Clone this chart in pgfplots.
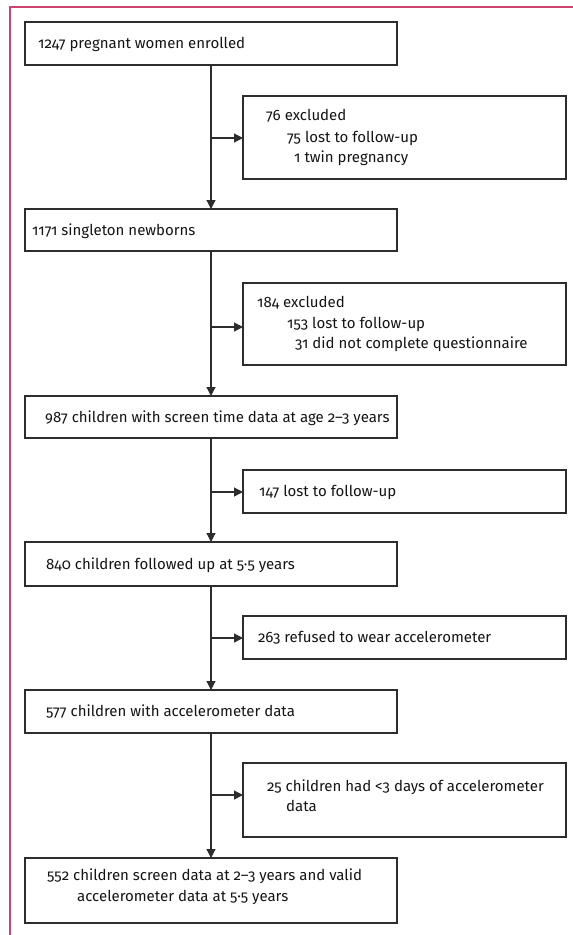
\documentclass[border=0pt]{standalone}
\usepackage{pgfplots}
\pgfplotsset{compat=1.18}
\usetikzlibrary{arrows.meta}
\usepackage{fontspec}
\setmainfont[Numbers=OldStyle]{Fira Sans}

\definecolor{framepink}{RGB}{204,68,110}
\definecolor{boxline}{RGB}{45,45,45}

\tikzset{
    box/.style={boxline, line width=1.2pt},
    flow/.style={boxline, line width=1.2pt, -{Triangle[length=9pt,width=9pt]}},
    txt/.style={anchor=base west, inner sep=0pt, font=\fontsize{15}{18}\selectfont, text=black!92},
}

\begin{document}
\begin{tikzpicture}
\begin{axis}[
    width=573pt, height=935pt, scale only axis,
    xmin=0, xmax=573, ymin=0, ymax=935,
    y dir=reverse,
    hide axis,
    clip=true,
    every axis plot/.append style={line join=miter},
]
% page frame (top and left rule)
\addplot[draw=none] coordinates {(0,0) (573,935)};
\addplot[framepink, line width=1.4pt] coordinates {(10,935) (10,7) (573,7)};

% main boxes
\addplot[box] coordinates {(211,22) (397,22) (397,65) (25,65) (25,22) (211,22)};
\addplot[box] coordinates {(211,209) (397,209) (397,251) (25,251) (25,209) (211,209)};
\addplot[box] coordinates {(211,396) (397,396) (397,438) (25,438) (25,396) (211,396)};
\addplot[box] coordinates {(211,542) (397,542) (397,586) (25,586) (25,542) (211,542)};
\addplot[box] coordinates {(211,690) (397,690) (397,733) (25,733) (25,690) (211,690)};
\addplot[box] coordinates {(211,858) (397,858) (397,923) (25,923) (25,858) (211,858)};

% side boxes
\addplot[box] coordinates {(400,96) (566,96) (566,179) (243,179) (243,96) (400,96)};
\addplot[box] coordinates {(400,283) (566,283) (566,365) (243,365) (243,283) (400,283)};
\addplot[box] coordinates {(400,470) (566,470) (566,513) (243,513) (243,470) (400,470)};
\addplot[box] coordinates {(400,616) (566,616) (566,659) (243,659) (243,616) (400,616)};
\addplot[box] coordinates {(400,763) (566,763) (566,837) (243,837) (243,763) (400,763)};

% vertical flow
\addplot[flow] coordinates {(211,65) (211,209)};
\addplot[flow] coordinates {(211,251) (211,396)};
\addplot[flow] coordinates {(211,438) (211,542)};
\addplot[flow] coordinates {(211,586) (211,690)};
\addplot[flow] coordinates {(211,733) (211,858)};

% exclusions
\addplot[flow] coordinates {(211,138) (243,138)};
\addplot[flow] coordinates {(211,327) (243,327)};
\addplot[flow] coordinates {(211,492) (243,492)};
\addplot[flow] coordinates {(211,638) (243,638)};
\addplot[flow] coordinates {(211,795) (243,795)};

% texts
\node[txt] at (axis cs:38,48.5) {1247 pregnant women enrolled};
\node[txt] at (axis cs:32,235) {1171 singleton newborns};
\node[txt] at (axis cs:45,422) {987 children with screen time data at age 2–3 years};
\node[txt] at (axis cs:46,569) {840 children followed up at 5·5 years};
\node[txt] at (axis cs:46,716.5) {577 children with accelerometer data};
\node[txt] at (axis cs:47,880) {552 children screen data at 2–3 years and valid};
\node[txt] at (axis cs:77,901) {accelerometer data at 5·5 years};

\node[txt] at (axis cs:266,120) {76 excluded};
\node[txt] at (axis cs:287,142) {75 lost to follow-up};
\node[txt] at (axis cs:294,162) {1 twin pregnancy};

\node[txt] at (axis cs:257,307.5) {184 excluded};
\node[txt] at (axis cs:287,328) {153 lost to follow-up};
\node[txt] at (axis cs:295,348.5) {31 did not complete questionnaire};

\node[txt] at (axis cs:259,496.5) {147 lost to follow-up};
\node[txt] at (axis cs:258,642.5) {263 refused to wear accelerometer};
\node[txt] at (axis cs:267,791) {25 children had <3 days of accelerometer};
\node[txt] at (axis cs:286,811) {data};
\end{axis}
\end{tikzpicture}
\end{document}
